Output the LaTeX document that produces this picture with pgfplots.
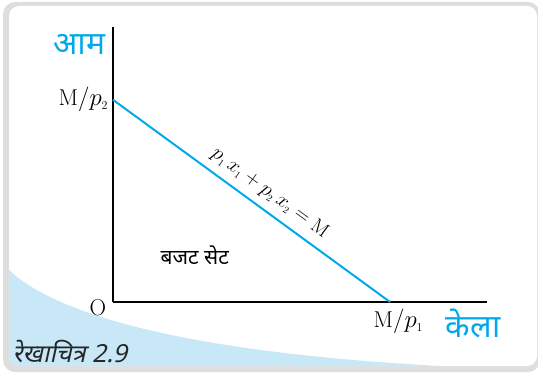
\documentclass[border=0pt]{standalone}
\usepackage{fontspec}
\usepackage{pgfplots}
\pgfplotsset{compat=1.18}
\newfontfamily\dev[Script=Devanagari]{Noto Sans}
\newfontfamily\devsl[Script=Devanagari,FakeSlant=0.22]{Noto Sans}
\definecolor{lineblue}{RGB}{0,170,234}
\definecolor{paleblue}{RGB}{200,232,247}
\definecolor{shadow}{RGB}{200,200,200}

\begin{document}
\begin{tikzpicture}[x=1bp,y=1bp]
\path[use as bounding box] (0,0) rectangle (538,373);
% panel with shadow
\fill[shadow!60, rounded corners=12bp] (3,1) rectangle (540,371);
\fill[white, rounded corners=10bp] (9,7) rectangle (537,367);
% pale blue corner
\begin{scope}
\clip[rounded corners=10bp] (9,7) rectangle (537,367);
\fill[paleblue] (9,103) .. controls (60,55) and (200,20) .. (440,7) -- (9,7) -- cycle;
\end{scope}

\begin{axis}[
    at={(113bp,71bp)}, anchor=origin,
    scale only axis,
    width=374bp, height=275bp,
    xmin=0, xmax=13.5,
    ymin=0, ymax=13.6,
    axis x line=bottom, axis y line=left,
    axis line style={line width=2.2pt, -},
    xtick=\empty, ytick=\empty,
    clip=false,
]
\addplot[color=lineblue, line width=2pt]
    coordinates {(0,10) (10,0)}
    node[pos=0.53, sloped, above=4bp, text=black, font=\fontsize{20}{20}\selectfont]
    {$p_{\scriptscriptstyle 1}\,x_{\scriptscriptstyle 1} + p_{\scriptscriptstyle 2}\,x_{\scriptscriptstyle 2} = \mathrm{M}$};
\node[anchor=east, font=\fontsize{23}{23}\selectfont] at (axis cs:-0.05,10) {$\mathrm{M}/p_{\scriptscriptstyle 2}$};
\node[font=\fontsize{23}{23}\selectfont] at (axis cs:-0.55,-0.3) {O};
\node[font=\fontsize{23}{23}\selectfont] at (axis cs:10.3,-0.95) {$\mathrm{M}/p_{\scriptscriptstyle 1}$};
\node[text=lineblue, font=\dev\fontsize{32}{32}\selectfont] at (axis cs:13.0,-1.05) {केला};
\node[text=lineblue, font=\dev\fontsize{32}{32}\selectfont] at (axis cs:-1.2,12.75) {आम};
\node[font=\dev\bfseries\fontsize{21}{21}\selectfont] at (axis cs:2.95,2.3) {बजट सेट};
\end{axis}
\node[anchor=west, text=black!85, font=\devsl\fontsize{25}{25}\selectfont] at (9,21) {रेखाचित्र 2.9};
\end{tikzpicture}
\end{document}
